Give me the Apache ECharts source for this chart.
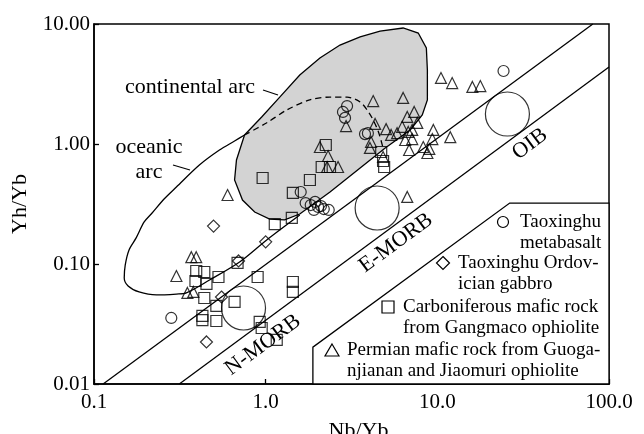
<!DOCTYPE html>
<html><head><meta charset="utf-8">
<script src="https://cdn.jsdelivr.net/npm/echarts/dist/echarts.min.js"></script>
<style>html,body{margin:0;padding:0;background:#fff}#c{width:644px;height:434px}</style>
</head><body><div id="c"></div>
<script>
const xTicks = ['0.1', '1.0', '10.0', '100.0'];
const yTicks = ['0.01', '0.10', '1.00', '10.00'];

// Taoxinghu metabasalt (circles)
const metabasalt = [[24.3,4.06],[2.82,1.85],[2.98,2.07],[2.90,1.65],[3.79,1.21],[3.94,1.23],
  [1.60,0.398],[1.71,0.322],[1.83,0.310],[1.94,0.329],[2.02,0.299],[2.10,0.304],[2.18,0.287],
  [1.91,0.282],[2.33,0.282],[0.282,0.0355]];
// Taoxinghu Ordovician gabbro (diamonds)
const gabbro = [[0.497,0.207],[1.0,0.153],[0.695,0.106],[0.553,0.0531],[0.452,0.0224]];
// Carboniferous mafic rock from Gangmaco ophiolite (squares)
const gangmaco = [[2.24,0.981],[2.12,0.643],[2.37,0.643],[0.960,0.521],[1.81,0.501],[1.44,0.391],
  [1.13,0.215],[1.42,0.242],[4.71,0.858],[4.83,0.722],[4.90,0.643],[0.394,0.0874],[0.439,0.0858],
  [0.390,0.0722],[0.452,0.0682],[0.531,0.0779],[0.686,0.102],[0.898,0.0779],[0.439,0.0521],
  [0.516,0.0447],[0.659,0.0483],[0.428,0.0369],[0.428,0.0341],[0.516,0.0335],[0.923,0.0329],
  [0.948,0.0293],[1.16,0.0233],[1.44,0.0708],[1.44,0.0585]];
// Permian mafic rock from Guoganjianan and Jiaomuri ophiolite (triangles)
const permian = [[10.5,3.55],[12.2,3.22],[16.0,2.99],[17.8,3.04],[4.23,2.28],[6.32,2.42],
  [2.94,1.41],[4.34,1.47],[5.03,1.33],[5.38,1.19],[6.24,1.39],[6.68,1.68],[7.33,1.85],[6.77,1.26],
  [7.64,1.50],[7.14,1.10],[6.85,0.891],[8.28,0.944],[9.48,1.31],[9.35,1.10],[8.98,0.909],
  [8.75,0.841],[11.9,1.14],[4.05,0.927],[4.11,1.04],[4.83,0.779],[5.83,1.23],[2.07,0.944],
  [2.31,0.794],[2.28,0.643],[2.64,0.643],[0.600,0.376],[6.68,0.362],[0.302,0.0794],[0.369,0.114],
  [0.394,0.114],[0.350,0.0574],[0.379,0.0585],[7.14,1.31],[6.50,1.08]];

// Reference compositions: N-MORB, E-MORB, OIB
const refComps = [[0.743,0.043],[4.46,0.293],[25.6,1.778]];

// MORB-OIB array boundaries
const arrayUpper = [[0.113,0.01],[80.5,10]];
const arrayLower = [[0.314,0.01],[100,4.39]];

// Continental arc field (grey)
const contArc = [[0.753,1.189],[0.948,1.679],[1.208,2.46],[1.58,3.76],[2.07,5.21],[2.71,6.68],
  [3.55,7.8],[4.64,8.74],[6.32,9.26],[7.74,8.41],[8.63,6.31],[8.75,4.14],[8.75,2.33],[8.17,1.745],
  [6.95,1.31],[4.97,0.927],[3.55,0.631],[2.37,0.398],[1.58,0.261],[1.29,0.233],[1.055,0.237],
  [0.863,0.271],[0.733,0.341],[0.659,0.501],[0.676,0.736]];
// Oceanic arc boundary, solid part
const oceArcSolid = [[1.58,0.256],[1.01,0.158],[0.705,0.104],[0.471,0.0735],[0.345,0.0574],
  [0.302,0.0562],[0.231,0.0552],[0.183,0.0585],[0.158,0.0656],[0.150,0.0764],[0.152,0.098],
  [0.160,0.131],[0.176,0.165],[0.196,0.224],[0.218,0.266],[0.256,0.348],[0.302,0.438],
  [0.411,0.668],[0.538,0.891],[0.659,1.059],[0.753,1.189]];
// Oceanic arc boundary, dashed part inside the continental arc field
const oceArcDashed = [[0.753,1.189],[1.01,1.496],[1.327,1.92],[1.807,2.33],[2.366,2.46],[2.98,2.46],
  [3.55,2.24],[3.90,1.92],[4.17,1.648],[4.52,1.283],[4.83,0.927]];

// legend box outline (data space)
const legendBox = [[1.884,0.01],[1.884,0.0203],[26.4,0.322],[100,0.322],[100,0.01]];

const FONT = '"Liberation Serif","Times New Roman",serif';
const chart = echarts.init(document.getElementById('c'));

function poly(points, fill, z) {
  return {
    type: 'custom', coordinateSystem: 'cartesian2d', silent: true, z: z,
    data: [[1, 1]],
    renderItem: (params, api) => ({
      type: 'polygon',
      shape: { points: points.map(p => api.coord(p)) },
      style: { fill: fill, stroke: '#000', lineWidth: 1.3 }
    })
  };
}
function line(data, dashed, smooth) {
  return {
    type: 'line', data: data, symbol: 'none', silent: true, z: 3, smooth: smooth || false,
    lineStyle: { color: '#000', width: 1.3, type: dashed ? [6, 4] : 'solid' }
  };
}
function pts(name, data, symbol, size) {
  return {
    type: 'scatter', name: name, data: data, symbol: symbol, symbolSize: size, z: 6,
    itemStyle: { color: 'rgba(0,0,0,0)', borderColor: '#000', borderWidth: 1.2 }
  };
}

const axisCommon = {
  type: 'log', logBase: 10,
  axisLine: { lineStyle: { color: '#000', width: 1.5 } },
  axisTick: { inside: true, length: 5, lineStyle: { color: '#000', width: 1.3 } },
  splitLine: { show: false },
  minorTick: { show: false },
  nameLocation: 'middle'
};

const tf = (x, y, text, rotDeg, size) => ({
  type: 'text', x: x, y: y, rotation: (rotDeg || 0) * Math.PI / 180, z: 100,
  style: { text: text, fill: '#000', font: (size || 22) + 'px ' + FONT, align: 'center', verticalAlign: 'middle' }
});
const lt = (x, y, text) => ({
  type: 'text', x: x, y: y, z: 100,
  style: { text: text, fill: '#000', font: '19px ' + FONT, lineHeight: 21, align: 'left', verticalAlign: 'top' }
});
const sym = { fill: 'none', stroke: '#000', lineWidth: 1.2 };

chart.setOption({
  animation: false,
  backgroundColor: '#fff',
  grid: { left: 94, right: 35, top: 24, bottom: 50, show: true, borderColor: '#000', borderWidth: 1.5,
    containLabel: false, outerBoundsMode: 'none' },
  xAxis: Object.assign({}, axisCommon, {
    min: 0.1, max: 100, name: 'Nb/Yb', nameGap: 36,
    nameTextStyle: { color: '#000', fontFamily: FONT, fontSize: 22, padding: [0, 0, 0, 14] },
    axisLabel: { color: '#000', fontFamily: FONT, fontSize: 21, margin: 8,
      formatter: v => xTicks[Math.round(Math.log10(v)) + 1] }
  }),
  yAxis: Object.assign({}, axisCommon, {
    min: 0.01, max: 10, name: 'Yh/Yb', nameGap: 63,
    nameTextStyle: { color: '#000', fontFamily: FONT, fontSize: 22 },
    axisLabel: { color: '#000', fontFamily: FONT, fontSize: 21, margin: 4,
      formatter: v => yTicks[Math.round(Math.log10(v)) + 2] }
  }),
  series: [
    poly(contArc, '#d3d3d3', 1),
    line(oceArcSolid, false, 0.3),
    line(oceArcDashed, true, 0.3),
    line(arrayUpper, false),
    line(arrayLower, false),
    poly(legendBox, '#fff', 2),
    pts('N-MORB / E-MORB / OIB', refComps, 'circle', 44),
    pts('Taoxinghu metabasalt', metabasalt, 'circle', 11),
    pts('Taoxinghu Ordovician gabbro', gabbro, 'diamond', 12),
    pts('Carboniferous mafic rock from Gangmaco ophiolite', gangmaco, 'rect', 11),
    pts('Permian mafic rock from Guoganjianan and Jiaomuri ophiolite', permian, 'triangle', 11)
  ],
  graphic: [
    tf(190, 87, 'continental arc'),
    { type: 'line', z: 100, shape: { x1: 263, y1: 90, x2: 278, y2: 95 }, style: { stroke: '#000', lineWidth: 1.2 } },
    tf(149, 147, 'oceanic'),
    tf(149, 172, 'arc'),
    { type: 'line', z: 100, shape: { x1: 173, y1: 165, x2: 190, y2: 170 }, style: { stroke: '#000', lineWidth: 1.2 } },
    tf(530, 144, 'OIB', 36.5),
    tf(396, 243, 'E-MORB', 36.5),
    tf(263, 345, 'N-MORB', 36.5),
    { type: 'circle', z: 100, shape: { cx: 503, cy: 222, r: 5.5 }, style: sym },
    lt(520, 211.5, 'Taoxinghu\nmetabasalt'),
    { type: 'polygon', z: 100, shape: { points: [[443, 256.5], [449.5, 263], [443, 269.5], [436.5, 263]] }, style: sym },
    lt(458, 252.5, 'Taoxinghu Ordov-\nician gabbro'),
    { type: 'rect', z: 100, shape: { x: 382, y: 301, width: 12, height: 12 }, style: sym },
    lt(403, 296.5, 'Carboniferous mafic rock\nfrom Gangmaco ophiolite'),
    { type: 'polygon', z: 100, shape: { points: [[332, 344], [339, 356], [325, 356]] }, style: sym },
    lt(347, 339.5, 'Permian mafic rock from Guoga-\nnjianan and Jiaomuri ophiolite')
  ]
});
</script></body></html>
